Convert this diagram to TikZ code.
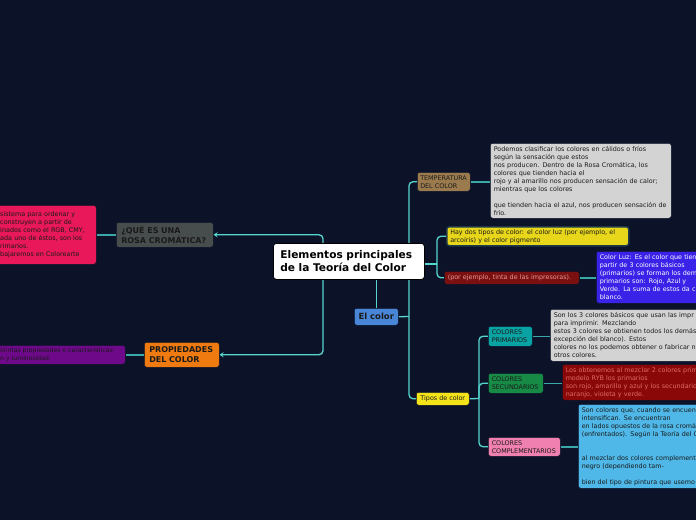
\documentclass[tikz,border=0pt]{standalone}
\usepackage{fontspec}
\setmainfont{DejaVu Sans}
\usetikzlibrary{arrows.meta,backgrounds}
\definecolor{bg}{HTML}{0C1329}
\definecolor{trunkc}{HTML}{55D6CC}
\definecolor{leafc}{HTML}{3AA8A6}
\definecolor{cgrayd}{HTML}{474D4C}
\definecolor{corange}{HTML}{EF7A10}
\definecolor{cred}{HTML}{E8185A}
\definecolor{cpurple}{HTML}{6E0A8A}
\definecolor{ctan}{HTML}{9B7B4E}
\definecolor{cgrayl}{HTML}{D3D3D3}
\definecolor{cyel}{HTML}{E8D61A}
\definecolor{cyelborder}{HTML}{1F3A4A}
\definecolor{cyel2}{HTML}{F5E31A}
\definecolor{cdred}{HTML}{7A1010}
\definecolor{cdred2}{HTML}{8A0808}
\definecolor{cviolet}{HTML}{3A22E8}
\definecolor{cteal}{HTML}{0AA3A3}
\definecolor{cgreen}{HTML}{178A45}
\definecolor{cpink}{HTML}{F080B0}
\definecolor{cblue}{HTML}{4A86D8}
\definecolor{clblue}{HTML}{4FB8E8}
\definecolor{darktxt}{HTML}{1A1A1A}
\definecolor{pinktxt}{HTML}{E89898}
\definecolor{redtxt}{HTML}{E06A6A}
\tikzset{
  box/.style={rectangle, rounded corners=2.5pt, draw=bg, line width=0.5pt, anchor=north west,
    inner xsep=3.5pt, inner ysep=1.5pt, align=left, text=darktxt},
  small/.style={font=\fontsize{6.4}{8}\selectfont},
  head/.style={font=\bfseries\fontsize{8}{10}\selectfont},
  trunk/.style={draw=trunkc, line width=1.3pt, rounded corners=4pt},
  leaf/.style={draw=leafc, line width=1.5pt},
  arr/.style={-{Stealth[length=4pt,width=5pt]}}
}
\begin{document}
\begin{tikzpicture}[x=1pt,y=-1pt]
\useasboundingbox (0,0) rectangle (696,520);
% nodes
\node[box, fill=white, draw=black, line width=0.8pt, rounded corners=3pt, text width=137pt, inner xsep=7pt,
  minimum height=36pt, font=\bfseries\fontsize{10.6}{13}\selectfont, text=black]
  (title) at (273,243) {Elementos principales\\de la Teoría del Color};
\node[box, fill=cblue, align=center, minimum width=44pt, minimum height=17pt,
  font=\bfseries\fontsize{8.5}{10}\selectfont] (elcolor) at (354,308) {El color};
\node[box, head, fill=cgrayd, text width=87pt, minimum height=25pt, inner xsep=5pt] (que) at (116,222)
  {¿QUÉ ES UNA\\ROSA CROMÁTICA?};
\node[box, head, fill=corange, text width=65pt, minimum height=25pt, inner xsep=5pt] (prop) at (144,342)
  {PROPIEDADES\\DEL COLOR};
\node[box, small, fill=cred, text width=92pt, minimum height=59pt, inner xsep=4pt, text=darktxt] (redL) at (-4,205)
  {sistema para ordenar y\\construyen a partir de\\inados como el RGB, CMY,\\ada uno de éstos, son los\\rimarios.\\bajaremos en Colorearte};
\node[box, fill=cpurple, text width=122pt, minimum height=19pt, inner xsep=3pt, text=darktxt,
  font=\fontsize{6.1}{8}\selectfont] (purple) at (-3,345)
  {\mbox{stintas propiedades o características:}\\n y luminosidad.};
\node[box, small, fill=ctan, text width=47pt, minimum height=19pt, inner xsep=3pt] (temp) at (417,172)
  {TEMPERATURA\\DEL COLOR};
\node[box, small, fill=cgrayl, text width=174pt, minimum height=75pt] (gray1) at (490,143)
  {Podemos clasificar los colores en cálidos o fríos\\según la sensación que estos\\nos producen. Dentro de la Rosa Cromática, los\\colores que tienden hacia el\\rojo y al amarillo nos producen sensación de calor;\\mientras que los colores\\~\\que tienden hacia el azul, nos producen sensación de\\frío.};
\node[box, small, fill=cyel, draw=cyelborder, line width=1.5pt, text width=175pt, minimum height=19pt] (yellow) at (446,226)
  {Hay dos tipos de color: el color luz (por ejemplo, el\\arcoíris) y el color pigmento};
\node[box, small, fill=cdred, text=pinktxt, text width=128pt, minimum height=13pt] (redsmall) at (444,271)
  {(por ejemplo, tinta de las impresoras).};
\node[box, small, fill=cviolet, text=white, text width=130pt, minimum height=52pt] (violet) at (596,251)
  {Color Luz: Es el color que tien\\partir de 3 colores básicos\\(primarios) se forman los dem\\primarios son: Rojo, Azul y\\Verde. La suma de estos da c\\blanco.};
\node[box, small, fill=cyel2, align=center, minimum width=53pt, minimum height=13pt] (tipos) at (416,392)
  {Tipos de color};
\node[box, small, fill=cteal, text width=37pt, minimum height=20pt] (prim) at (488,326)
  {COLORES\\PRIMARIOS};
\node[box, small, fill=cgreen, text width=48pt, minimum height=20pt] (sec) at (488,373)
  {COLORES\\SECUNDARIOS};
\node[box, small, fill=cpink, text width=65pt, minimum height=19pt] (comp) at (488,437)
  {COLORES\\COMPLEMENTARIOS};
\node[box, small, fill=cgrayl, text width=160pt, minimum height=52pt] (gray2) at (550,309)
  {Son los 3 colores básicos que usan las impr\\para imprimir. Mezclando\\estos 3 colores se obtienen todos los demás\\excepción del blanco). Estos\\colores no los podemos obtener o fabricar n\\otros colores.};
\node[box, small, fill=cdred2, text=redtxt, text width=150pt, minimum height=36pt] (red2) at (562,364)
  {Los obtenemos al mezclar 2 colores prim\\modelo RYB los primarios\\son rojo, amarillo y azul y los secundario\\naranjo, violeta y verde.};
\node[box, small, fill=clblue, text width=140pt, minimum height=84pt] (blue) at (578,404)
  {Son colores que, cuando se encuen\\intensifican. Se encuentran\\en lados opuestos de la rosa cromá\\(enfrentados). Según la Teoría del C\\~\\~\\al mezclar dos colores complement\\negro (dependiendo tam-\\~\\bien del tipo de pintura que usemo};
% connectors
\begin{pgfonlayer}{background}
\fill[bg] (0,0) rectangle (696,520);
\coordinate (lt) at (323,261);
\coordinate (rt) at (409,316.5);
\coordinate (tr) at (437,264);
\coordinate (tt) at (479,398.5);
\draw[trunk,arr] (lt) |- (que.east);
\draw[trunk,arr] (lt) |- (prop.east);
\draw[trunk] (elcolor.north |- title.south) -- (elcolor.north);
\draw[trunk] (elcolor.east) -- (rt);
\draw[trunk] (rt) |- (temp.west);
\draw[trunk] (rt) |- (tipos.west);
\draw[trunk] (title.east |- tr) -- (tr);
\draw[trunk] (tr) |- (yellow.west);
\draw[trunk] (tr) |- (redsmall.west);
\draw[trunk] (tipos.east) -- (tt);
\draw[trunk] (tt) |- (prim.west);
\draw[trunk] (tt) |- (sec.west);
\draw[trunk] (tt) |- (comp.west);
\draw[leaf] (que.west) -- (que.west -| redL.east);
\draw[leaf] (prop.west) -- (prop.west -| purple.east);
\draw[leaf] (temp.east) -- (temp.east -| gray1.west);
\draw[leaf] (redsmall.east) -- (redsmall.east -| violet.west);
\draw[leaf] (prim.east) -- (prim.east -| gray2.west);
\draw[leaf] (sec.east) -- (sec.east -| red2.west);
\draw[leaf] (comp.east) -- (comp.east -| blue.west);
\end{pgfonlayer}
\end{tikzpicture}
\end{document}
